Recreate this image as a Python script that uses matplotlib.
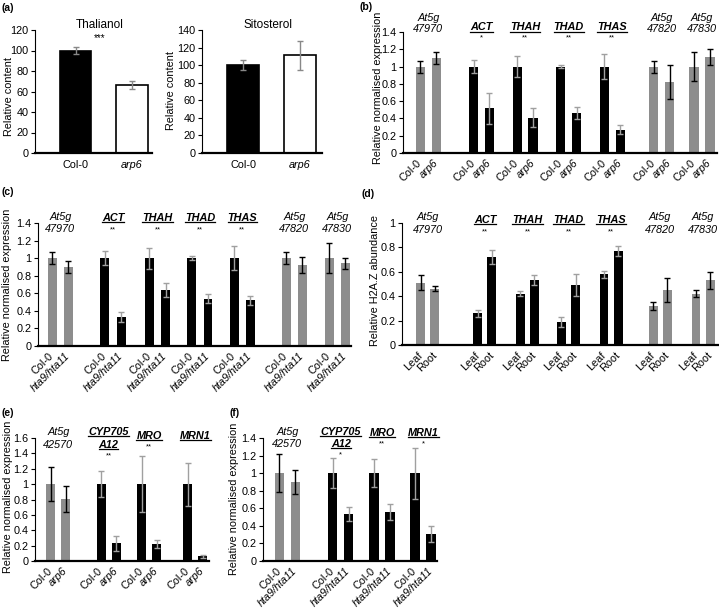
import matplotlib
matplotlib.use('Agg')
import matplotlib.pyplot as plt
from matplotlib.lines import Line2D
import numpy as np

plt.rcParams['font.family'] = ['Liberation Sans', 'DejaVu Sans']

# ---------------- data ----------------
a_genotypes = ['Col-0', 'arp6']
thal_vals = [100, 66]
thal_err = [3, 4]
sito_vals = [100, 111]
sito_err = [5.5, 17]

bcd_genes = ['At5g\n47970', 'ACT', 'THAH', 'THAD', 'THAS', 'At5g\n47820', 'At5g\n47830']
bcd_cluster = [False, True, True, True, True, False, False]

b_labels = ['Col-0', 'arp6']
b_wt = [1.0, 1.0, 1.0, 1.0, 1.0, 1.0, 1.0]
b_wt_err = [0.07, 0.08, 0.12, 0.02, 0.14, 0.07, 0.17]
b_mut = [1.10, 0.52, 0.41, 0.46, 0.27, 0.82, 1.11]
b_mut_err = [0.07, 0.18, 0.11, 0.07, 0.05, 0.20, 0.09]
b_sig = ['', '*', '**', '**', '**', '', '']

c_labels = ['Col-0', 'hta9/hta11']
c_wt = [1.0, 1.0, 1.0, 1.0, 1.0, 1.0, 1.0]
c_wt_err = [0.07, 0.08, 0.12, 0.02, 0.14, 0.07, 0.17]
c_mut = [0.90, 0.33, 0.64, 0.54, 0.52, 0.92, 0.94]
c_mut_err = [0.07, 0.06, 0.08, 0.05, 0.05, 0.09, 0.06]
c_sig = ['', '**', '**', '**', '**', '', '']

d_labels = ['Leaf', 'Root']
d_leaf = [0.51, 0.26, 0.42, 0.19, 0.58, 0.32, 0.42]
d_leaf_err = [0.06, 0.03, 0.02, 0.04, 0.03, 0.03, 0.03]
d_root = [0.46, 0.72, 0.53, 0.49, 0.77, 0.45, 0.53]
d_root_err = [0.02, 0.06, 0.04, 0.09, 0.04, 0.10, 0.07]
d_sig = ['', '**', '**', '**', '**', '', '']

ef_genes = ['At5g\n42570', 'CYP705\nA12', 'MRO', 'MRN1']
ef_cluster = [False, True, True, True]

e_labels = ['Col-0', 'arp6']
e_wt = [1.0, 1.0, 1.0, 1.0]
e_wt_err = [0.22, 0.17, 0.36, 0.28]
e_mut = [0.81, 0.23, 0.22, 0.06]
e_mut_err = [0.17, 0.10, 0.05, 0.02]
e_sig = ['', '**', '**', '']

f_labels = ['Col-0', 'hta9/hta11']
f_wt = [1.0, 1.0, 1.0, 1.0]
f_wt_err = [0.22, 0.17, 0.16, 0.29]
f_mut = [0.90, 0.54, 0.56, 0.31]
f_mut_err = [0.14, 0.08, 0.09, 0.09]
f_sig = ['', '*', '**', '*']

# ---------------- style ----------------
W, H = 719, 611
fig = plt.figure(figsize=(W / 100, H / 100), dpi=100)
GRAY = '#8d8d8d'
EGRAY = '#a0a0a0'
FS = 7.8
underlined = []


def px_axes(left, right, top, bottom):
    return fig.add_axes([left / W, 1 - bottom / H, (right - left) / W, (bottom - top) / H])


def style_axes(ax, ylim, yticks):
    for s in ('top', 'right'):
        ax.spines[s].set_visible(False)
    ax.spines['left'].set_linewidth(0.8)
    ax.spines['bottom'].set_linewidth(1.6)
    ax.set_ylim(*ylim)
    ax.set_yticks(yticks)
    ax.set_yticklabels([f'{v:g}' for v in yticks], fontsize=FS)
    ax.tick_params(axis='y', length=3, width=0.8, pad=1.5)
    ax.tick_params(axis='x', length=0)


def place_ylabel(ax, box, text, xpx, ypx):
    left, right, top, bottom = box
    ax.set_ylabel(text, fontsize=FS)
    ax.yaxis.label.set_va('center')
    ax.yaxis.set_label_coords((xpx - left) / (right - left), (bottom - ypx) / (bottom - top))


def panel_label(x, y, s):
    fig.text(x / W, 1 - y / H, s, fontsize=7.5, fontweight='bold', ha='left', va='center')


# ---------------- (a) ----------------
def draw_a(box, xlim, vals, errs, title, ylim, yticks, stars, lab_xy):
    ax = px_axes(*box)
    x = np.arange(len(vals))
    ax.bar(x, vals, 0.55, color=['black', 'white'], edgecolor='black', linewidth=1.2, zorder=2)
    ax.errorbar(x, vals, yerr=errs, fmt='none', ecolor='#888888', elinewidth=1, capsize=2, capthick=1, zorder=3)
    ax.set_xlim(*xlim)
    style_axes(ax, ylim, yticks)
    ax.set_xticks(x)
    ax.set_xticklabels(a_genotypes, fontsize=FS)
    ax.get_xticklabels()[1].set_style('italic')
    ax.tick_params(axis='x', pad=5)
    place_ylabel(ax, box, 'Relative content', *lab_xy)
    ax.annotate(title, xy=(0.43, 1), xycoords=('data', 'axes fraction'), xytext=(0, 5),
                textcoords='offset pixels', ha='center', va='center', fontsize=8.5)
    if stars:
        ax.annotate(stars, xy=(0.43, 1), xycoords=('data', 'axes fraction'), xytext=(0, -8),
                    textcoords='offset pixels', ha='center', va='center', fontsize=7)
    return ax


draw_a((35, 152, 30, 153), (-0.717, 1.354), thal_vals, thal_err, 'Thalianol', (0, 120),
       range(0, 121, 20), '***', (9, 96))
draw_a((202, 322, 30, 153), (-0.72, 1.386), sito_vals, sito_err, 'Sitosterol', (0, 140),
       range(0, 141, 20), '', (171, 91))


# ---------------- paired panels ----------------
def draw_pairs(box, layout, genes, cluster, v1, e1, v2, e2, sig, labels, mut_italic,
               ylim, yticks, ylabel, lab_xy, offs):
    ax = px_axes(*box)
    steps, sep, width, xlim = layout
    gc = np.concatenate([[0], np.cumsum(steps)])
    x1 = gc - sep / 2
    x2 = gc + sep / 2
    cols = ['black' if c else GRAY for c in cluster]
    ecols = [EGRAY if c else 'black' for c in cluster]
    ax.bar(x1, v1, width, color=cols, zorder=2)
    ax.bar(x2, v2, width, color=cols, zorder=2)
    for i in range(len(gc)):
        for xx, vv, ee in ((x1[i], v1[i], e1[i]), (x2[i], v2[i], e2[i])):
            ax.errorbar(xx, vv, yerr=ee, fmt='none', ecolor=ecols[i], elinewidth=1,
                        capsize=2, capthick=1, zorder=3)
    ax.set_xlim(*xlim)
    style_axes(ax, ylim, yticks)
    xt = np.ravel(np.column_stack([x1, x2]))
    ax.set_xticks(xt)
    ax.set_xticklabels(labels * len(gc), fontsize=FS, rotation=45, ha='right',
                       va='center', rotation_mode='anchor')
    if mut_italic:
        for k, t in enumerate(ax.get_xticklabels()):
            if k % 2 == 1:
                t.set_style('italic')
    ax.tick_params(axis='x', pad=6)
    place_ylabel(ax, box, ylabel, *lab_xy)
    two, one, gap = offs
    for i, g in enumerate(genes):
        lines = g.split('\n')
        ys = two if len(lines) == 2 else one
        for ln, dy in zip(lines, ys):
            t = ax.annotate(ln, xy=(gc[i], 1), xycoords=('data', 'axes fraction'),
                            xytext=(0, -dy), textcoords='offset pixels', ha='center',
                            va='center', fontsize=FS, style='italic',
                            fontweight='bold' if cluster[i] else 'normal')
            if cluster[i]:
                underlined.append(t)
        if sig[i]:
            ax.annotate(sig[i], xy=(gc[i], 1), xycoords=('data', 'axes fraction'),
                        xytext=(0, -(ys[-1] + gap)), textcoords='offset pixels',
                        ha='center', va='center', fontsize=5.5)
    return ax


lay_b = ([1.222, 1, 1, 1, 1.135, 0.922], 0.365, 0.211, (-0.578, 6.624))
lay_c = ([1.229, 1.035, 0.984, 0.987, 1.207, 1.002], 0.377, 0.209, (-0.517, 6.762))
lay_d = ([1.34, 1.0, 0.965, 1.0, 1.153, 1.01], 0.33, 0.21, (-0.61, 6.82))
lay_e = ([1.116, 0.902, 1.027], 0.333, 0.2, (-0.518, 3.349))
lay_f = ([1.284, 0.999, 0.988], 0.383, 0.229, (-0.588, 3.605))

yt14 = np.round(np.arange(0, 1.41, 0.2), 1)
yt10 = np.round(np.arange(0, 1.01, 0.2), 1)
yt16 = np.round(np.arange(0, 1.61, 0.2), 1)

draw_pairs((403, 717, 32, 153), lay_b, bcd_genes, bcd_cluster, b_wt, b_wt_err, b_mut, b_mut_err,
           b_sig, b_labels, True, (0, 1.4), yt14, 'Relative normalised expression', (378, 88),
           ([-14, -3.2], [-4.7], 10.4))
draw_pairs((38, 351, 223, 346), lay_c, bcd_genes, bcd_cluster, c_wt, c_wt_err, c_mut, c_mut_err,
           c_sig, c_labels, True, (0, 1.4), yt14, 'Relative normalised expression', (7, 285),
           ([-6, 5.5], [-5], 12))
draw_pairs((402, 718, 223, 345), lay_d, bcd_genes, bcd_cluster, d_leaf, d_leaf_err, d_root, d_root_err,
           d_sig, d_labels, False, (0, 1.0), yt10, 'Relative H2A.Z abundance', (375, 281),
           ([-6, 7.4], [-3.3], 11.7))
draw_pairs((35, 209, 438, 561), lay_e, ef_genes, ef_cluster, e_wt, e_wt_err, e_mut, e_mut_err,
           e_sig, e_labels, True, (0, 1.6), yt16, 'Relative normalised expression', (8, 497),
           ([-6, 6.5], [-2], 11))
draw_pairs((263, 437, 438, 561), lay_f, ef_genes, ef_cluster, f_wt, f_wt_err, f_mut, f_mut_err,
           f_sig, f_labels, True, (0, 1.4), yt14, 'Relative normalised expression', (234, 499),
           ([-6.3, 6], [-5], 11))

panel_label(2, 8, '(a)')
panel_label(360, 7, '(b)')
panel_label(2, 192, '(c)')
panel_label(362, 194, '(d)')
panel_label(2, 413, '(e)')
panel_label(229, 413, '(f)')

# underline bold gene names
fig.canvas.draw()
r = fig.canvas.get_renderer()
for t in underlined:
    bb = t.get_window_extent(r)
    y = bb.y0 + 0.8
    fig.add_artist(Line2D([bb.x0 / W, bb.x1 / W], [y / H, y / H], color='black', linewidth=0.9,
                          transform=fig.transFigure))

fig.savefig('out.png', dpi=100)
